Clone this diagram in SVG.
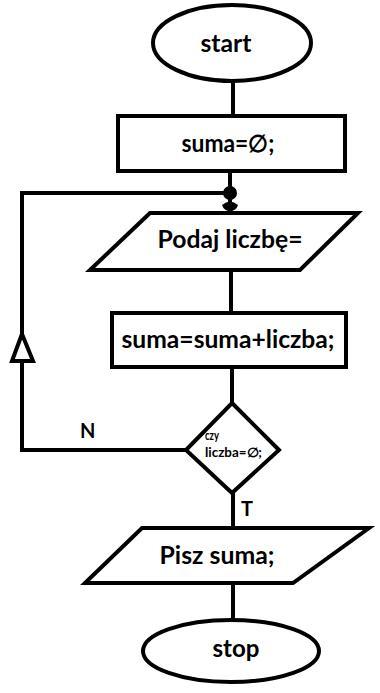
<svg xmlns="http://www.w3.org/2000/svg" width="380" height="693" viewBox="0 0 380 693">
  <style>
    .shape { fill: #ffffff; stroke: #000000; stroke-width: 4; stroke-linejoin: miter; }
    .line { fill: none; stroke: #000000; stroke-width: 4; }
    .lbl { font-family: Lato, "Open Sans", "Liberation Sans", sans-serif; font-weight: bold; fill: #000000; }
    .big { font-size: 24px; }
    .small { font-size: 12.5px; }
    .yn { font-size: 20px; }
  </style>
  <rect width="380" height="693" fill="#ffffff"/>

  <!-- connectors -->
  <g id="connectors">
    <line class="line" x1="233" y1="82" x2="233" y2="116"/>
    <line class="line" x1="230" y1="171" x2="230" y2="213"/>
    <line class="line" x1="231" y1="270" x2="231" y2="313"/>
    <line class="line" x1="232" y1="367" x2="232" y2="403"/>
    <line class="line" x1="233" y1="493" x2="233" y2="528"/>
    <line class="line" x1="233" y1="583" x2="233" y2="620"/>
    <!-- loop back from decision (N) -->
    <polyline class="line" points="186,450 22,450 22,193 230,193"/>
    <!-- open arrowhead on the loop -->
    <polygon class="shape" points="22,334 12,361 33,361"/>
    <!-- junction dot and entry head -->
    <circle cx="230" cy="193" r="7" fill="#000000"/>
    <path d="M222,205 Q230,198 238,205 Q236,211 230,211 Q224,211 222,205 Z" fill="#000000"/>
    <text class="lbl yn" x="80" y="438">N</text>
    <text class="lbl yn" x="241" y="516">T</text>
  </g>

  <g id="start">
    <ellipse class="shape" cx="232" cy="43" rx="79" ry="38"/>
    <text class="lbl big" x="226" y="52" text-anchor="middle" textLength="51" lengthAdjust="spacingAndGlyphs">start</text>
  </g>

  <g id="init">
    <rect class="shape" x="118" y="116" width="227" height="55"/>
    <text class="lbl big" x="228" y="152" text-anchor="middle" textLength="93" lengthAdjust="spacingAndGlyphs">suma=∅;</text>
  </g>

  <g id="input">
    <polygon class="shape" points="150,213 358,213 300,270 90,270"/>
    <text class="lbl big" x="230" y="248" text-anchor="middle" textLength="145" lengthAdjust="spacingAndGlyphs">Podaj liczbę=</text>
  </g>

  <g id="add">
    <rect class="shape" x="112" y="313" width="234" height="54"/>
    <text class="lbl big" x="228" y="348" text-anchor="middle" textLength="213" lengthAdjust="spacingAndGlyphs">suma=suma+liczba;</text>
  </g>

  <g id="decision">
    <polygon class="shape" points="232,403 279,450 232,493 186,450"/>
    <text class="lbl small" x="205" y="440" textLength="14" lengthAdjust="spacingAndGlyphs">czy</text>
    <text class="lbl small" x="205" y="457" textLength="57" lengthAdjust="spacingAndGlyphs">liczba=∅;</text>
  </g>

  <g id="output">
    <polygon class="shape" points="142,528 369,528 293,583 85,583"/>
    <text class="lbl big" x="217" y="564" text-anchor="middle" textLength="115" lengthAdjust="spacingAndGlyphs">Pisz suma;</text>
  </g>

  <g id="stop">
    <ellipse class="shape" cx="231" cy="651" rx="88" ry="31"/>
    <text class="lbl big" x="236" y="657" text-anchor="middle" textLength="47" lengthAdjust="spacingAndGlyphs">stop</text>
  </g>
</svg>
